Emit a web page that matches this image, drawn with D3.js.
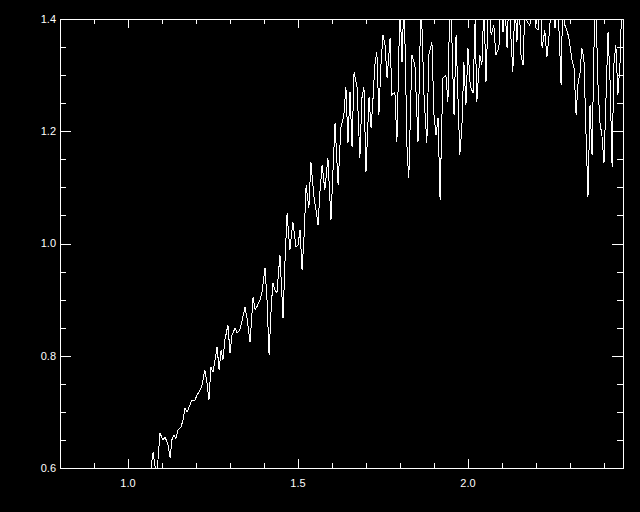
<!DOCTYPE html>
<html>
<head>
<meta charset="utf-8">
<script src="https://cdn.jsdelivr.net/npm/d3@7"></script>
<style>
	html, body { margin: 0; padding: 0; background: #000; }
	#contents { width: 640px; height: 512px; }
</style>
</head>
<body>
<div id="contents"></div>
<script>
// wavelength (micron) of each sample
var wave = [
	1.056, 1.065, 1.074, 1.079, 1.085, 1.094, 1.103, 1.109, 1.118, 1.124,
	1.129, 1.135, 1.141, 1.147, 1.156, 1.162, 1.168, 1.174, 1.182, 1.188,
	1.197, 1.203, 1.212, 1.218, 1.226, 1.232, 1.238, 1.244, 1.250, 1.256,
	1.262, 1.268, 1.274, 1.279, 1.285, 1.294, 1.300, 1.306, 1.315, 1.321,
	1.329, 1.335, 1.344, 1.350, 1.359, 1.368, 1.374, 1.379, 1.388, 1.394,
	1.403, 1.409, 1.415, 1.421, 1.426, 1.432, 1.438, 1.447, 1.456, 1.462,
	1.468, 1.476, 1.485, 1.494, 1.500, 1.506, 1.512, 1.518, 1.524, 1.532,
	1.538, 1.547, 1.553, 1.559, 1.565, 1.571, 1.579, 1.588, 1.597, 1.603,
	1.609, 1.618, 1.626, 1.635, 1.641, 1.647, 1.653, 1.659, 1.665, 1.674,
	1.682, 1.688, 1.694, 1.700, 1.709, 1.715, 1.721, 1.726, 1.732, 1.738,
	1.744, 1.750, 1.756, 1.762, 1.768, 1.771, 1.776, 1.785, 1.791, 1.800,
	1.806, 1.812, 1.821, 1.826, 1.835, 1.844, 1.853, 1.862, 1.871, 1.879,
	1.885, 1.894, 1.900, 1.906, 1.912, 1.918, 1.926, 1.935, 1.941, 1.947,
	1.953, 1.959, 1.965, 1.971, 1.976, 1.982, 1.988, 1.994, 2.000, 2.006,
	2.009, 2.015, 2.021, 2.026, 2.035, 2.041, 2.047, 2.053, 2.062, 2.068,
	2.076, 2.082, 2.091, 2.097, 2.103, 2.109, 2.115, 2.121, 2.126, 2.132,
	2.138, 2.144, 2.150, 2.156, 2.162, 2.168, 2.174, 2.182, 2.191, 2.200,
	2.206, 2.212, 2.218, 2.226, 2.232, 2.238, 2.247, 2.256, 2.262, 2.268,
	2.274, 2.279, 2.285, 2.291, 2.297, 2.306, 2.312, 2.318, 2.324, 2.329,
	2.335, 2.341, 2.347, 2.353, 2.359, 2.365, 2.371, 2.376, 2.382, 2.388,
	2.394, 2.400, 2.406, 2.412, 2.418, 2.424, 2.429, 2.435, 2.441, 2.447,
	2.453, 2.459
];

// flux, one per wavelength (> 1.4 runs off the top)
var flux = [
	0.579, 0.588, 0.629, 0.605, 0.588, 0.662, 0.650, 0.655, 0.641, 0.618,
	0.650, 0.659, 0.653, 0.668, 0.673, 0.686, 0.707, 0.700, 0.712, 0.721,
	0.721, 0.730, 0.739, 0.748, 0.775, 0.753, 0.721, 0.780, 0.771, 0.792,
	0.816, 0.775, 0.810, 0.792, 0.828, 0.855, 0.805, 0.837, 0.849, 0.841,
	0.846, 0.860, 0.887, 0.867, 0.824, 0.905, 0.882, 0.887, 0.899, 0.912,
	0.956, 0.899, 0.801, 0.882, 0.930, 0.917, 0.912, 0.980, 0.867, 0.971,
	1.054, 0.988, 1.038, 0.994, 0.997, 1.024, 0.953, 1.015, 1.104, 1.063,
	1.145, 1.083, 1.060, 1.033, 1.095, 1.140, 1.095, 1.152, 1.042, 1.131,
	1.215, 1.104, 1.206, 1.229, 1.279, 1.179, 1.270, 1.172, 1.306, 1.277,
	1.152, 1.259, 1.279, 1.127, 1.261, 1.206, 1.261, 1.318, 1.341, 1.229,
	1.318, 1.371, 1.354, 1.295, 1.341, 1.366, 1.265, 1.270, 1.181, 1.430,
	1.323, 1.445, 1.163, 1.117, 1.336, 1.318, 1.181, 1.440, 1.259, 1.179,
	1.336, 1.359, 1.229, 1.193, 1.224, 1.077, 1.295, 1.300, 1.252, 1.450,
	1.359, 1.229, 1.371, 1.252, 1.158, 1.206, 1.323, 1.247, 1.348, 1.288,
	1.277, 1.268, 1.398, 1.252, 1.336, 1.318, 1.430, 1.288, 1.460, 1.371,
	1.389, 1.336, 1.348, 1.440, 1.377, 1.425, 1.348, 1.450, 1.371, 1.306,
	1.435, 1.359, 1.445, 1.336, 1.318, 1.430, 1.395, 1.389, 1.440, 1.384,
	1.380, 1.455, 1.348, 1.380, 1.332, 1.366, 1.440, 1.384, 1.430, 1.377,
	1.282, 1.450, 1.389, 1.380, 1.366, 1.327, 1.313, 1.229, 1.288, 1.300,
	1.348, 1.330, 1.199, 1.083, 1.247, 1.158, 1.359, 1.440, 1.288, 1.216,
	1.193, 1.143, 1.259, 1.377, 1.288, 1.136, 1.318, 1.354, 1.265, 1.318,
	1.440, 1.363
];

var xRange = [0.8, 2.456];
var yRange = [0.6, 1.4];
var xMajor = [1.0, 1.5, 2.0];
var xMinor = [0.9, 1.1, 1.2, 1.3, 1.4, 1.6, 1.7, 1.8, 1.9, 2.1, 2.2, 2.3, 2.4];
var yMajor = [0.6, 0.8, 1.0, 1.2, 1.4];
var yMinor = [0.65, 0.7, 0.75, 0.85, 0.9, 0.95, 1.05, 1.1, 1.15, 1.25, 1.3, 1.35];

var Plot = function() {
	this.w = 640;
	this.h = 512;
	this.box = { left: 60, right: 623, top: 19, bottom: 468 };
	this.svg = d3.select("#contents")
		.append("svg")
		.attr("width", this.w)
		.attr("height", this.h)
		.style("background", "#000")
		.style("display", "block");
	this.x = d3.scaleLinear().domain(xRange).range([this.box.left, this.box.right]);
	this.y = d3.scaleLinear().domain(yRange).range([this.box.bottom, this.box.top]);
};

Plot.prototype.axes = function() {
	var b = this.box;
	var x = this.x, y = this.y;
	var fmt = d3.format(".1f");
	var major = 9, minor = 5;      // x tick lengths
	var majorY = 11, minorY = 6;   // y tick lengths

	var g = this.svg.append("g")
		.attr("stroke", "#fff")
		.attr("stroke-width", 1)
		.attr("shape-rendering", "crispEdges");

	// bottom + top, ticks pointing into the box
	var bottom = d3.axisTop(x).tickValues(xMajor).tickSize(major).tickFormat("").tickSizeOuter(0);
	var top = d3.axisBottom(x).tickValues(xMajor).tickSize(major).tickFormat("").tickSizeOuter(0);
	g.append("g").attr("transform", "translate(0," + b.bottom + ")").call(bottom);
	g.append("g").attr("transform", "translate(0," + b.top + ")").call(top);
	g.append("g").attr("transform", "translate(0," + b.bottom + ")")
		.call(d3.axisTop(x).tickValues(xMinor).tickSize(minor).tickFormat("").tickSizeOuter(0));
	g.append("g").attr("transform", "translate(0," + b.top + ")")
		.call(d3.axisBottom(x).tickValues(xMinor).tickSize(minor).tickFormat("").tickSizeOuter(0));

	// left + right
	g.append("g").attr("transform", "translate(" + b.left + ",0)")
		.call(d3.axisRight(y).tickValues(yMajor).tickSize(majorY).tickFormat("").tickSizeOuter(0));
	g.append("g").attr("transform", "translate(" + b.right + ",0)")
		.call(d3.axisLeft(y).tickValues(yMajor).tickSize(majorY).tickFormat("").tickSizeOuter(0));
	g.append("g").attr("transform", "translate(" + b.left + ",0)")
		.call(d3.axisRight(y).tickValues(yMinor).tickSize(minorY).tickFormat("").tickSizeOuter(0));
	g.append("g").attr("transform", "translate(" + b.right + ",0)")
		.call(d3.axisLeft(y).tickValues(yMinor).tickSize(minorY).tickFormat("").tickSizeOuter(0));

	g.selectAll(".domain").remove();
	g.selectAll("line").attr("stroke", "#fff");

	// the frame
	g.append("rect")
		.attr("x", b.left + 0.5)
		.attr("y", b.top + 0.5)
		.attr("width", b.right - b.left)
		.attr("height", b.bottom - b.top)
		.attr("fill", "none")
		.attr("stroke", "#fff");

	var t = this.svg.append("g")
		.attr("fill", "#fff")
		.style("font-family", "'Liberation Sans', Arial, sans-serif")
		.style("font-size", "11px");

	t.selectAll("text.xl")
		.data(xMajor)
		.enter()
		.append("text")
		.attr("class", "xl")
		.attr("x", function(d) { return x(d); })
		.attr("y", b.bottom + 19)
		.attr("text-anchor", "middle")
		.text(fmt);

	t.selectAll("text.yl")
		.data(yMajor)
		.enter()
		.append("text")
		.attr("class", "yl")
		.attr("x", b.left - 4)
		.attr("y", function(d) { return y(d); })
		.attr("dy", "0.35em")
		.attr("text-anchor", "end")
		.text(fmt);
};

Plot.prototype.spectrum = function() {
	var b = this.box;
	var x = this.x, y = this.y;

	this.svg.append("clipPath")
		.attr("id", "box")
		.append("rect")
		.attr("x", b.left)
		.attr("y", b.top)
		.attr("width", b.right - b.left + 1)
		.attr("height", b.bottom - b.top + 1);

	var line = d3.line()
		.x(function(d) { return x(d[0]); })
		.y(function(d) { return y(d[1]); });

	this.svg.append("path")
		.datum(d3.zip(wave, flux))
		.attr("clip-path", "url(#box)")
		.attr("fill", "none")
		.attr("stroke", "#fff")
		.attr("stroke-width", 1)
		.attr("shape-rendering", "crispEdges")
		.attr("d", line);
};

var plot = new Plot();
plot.axes();
plot.spectrum();
</script>
</body>
</html>
